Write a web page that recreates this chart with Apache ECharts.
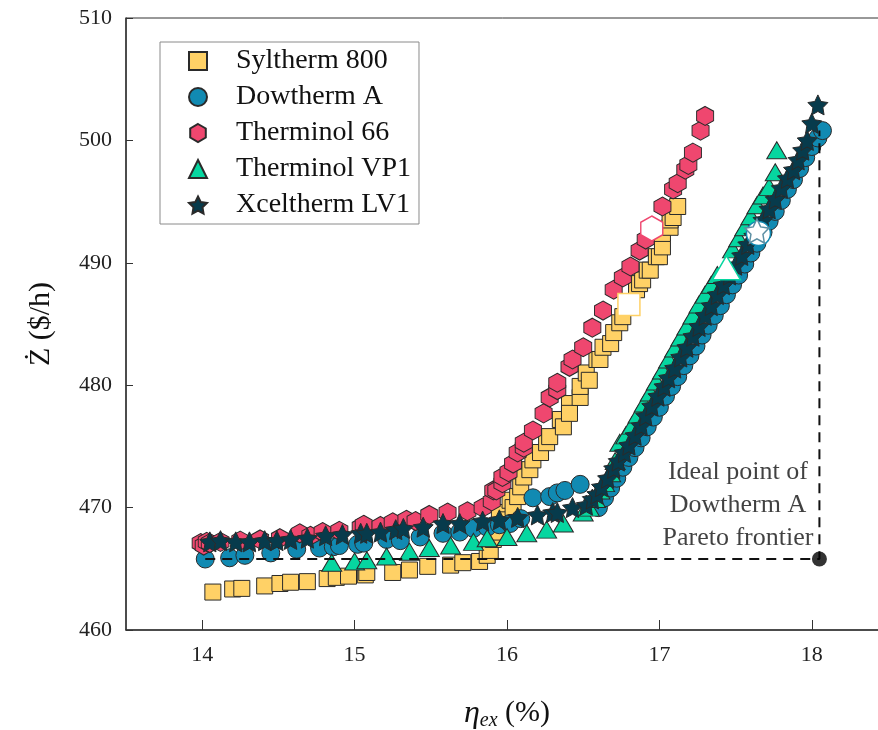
<!DOCTYPE html>
<html>
<head>
<meta charset="utf-8">
<script src="https://cdn.jsdelivr.net/npm/echarts@6/dist/echarts.min.js"></script>
<style>
  html, body { margin: 0; padding: 0; background: #fff; }
  #chart { width: 878px; height: 730px; }
</style>
</head>
<body>
<div id="chart"></div>
<script>
// Exergy efficiency (%) vs. total cost rate (Ż, $/h) for five heat-transfer oils
const xTicks = [14, 15, 16, 17, 18];
const yTicks = [460, 470, 480, 490, 500, 510];

const syltherm800 = [[14.07,463.1],[14.20,463.35],[14.26,463.4],[14.41,463.6],[14.51,463.8],[14.58,463.9],[14.69,463.95],[14.82,464.2],[14.88,464.3],[14.96,464.4],[15.07,464.5],[15.08,464.7],[15.25,464.7],[15.36,464.9],[15.48,465.2],[15.63,465.3],[15.71,465.5],[15.82,465.6],[15.87,466.1],[15.89,466.5],[15.91,467.4],[15.93,468.0],[15.95,469.6],[16.00,469.0],[16.02,470.6],[16.04,470.0],[16.07,470.9],[16.09,471.7],[16.11,472.5],[16.15,473.1],[16.17,473.9],[16.22,474.5],[16.26,475.3],[16.28,475.8],[16.35,477.2],[16.37,476.6],[16.41,478.5],[16.41,477.7],[16.48,479.0],[16.48,479.9],[16.52,481.0],[16.54,480.4],[16.59,482.1],[16.61,482.1],[16.63,483.1],[16.68,483.4],[16.70,484.3],[16.74,485.1],[16.76,485.6],[16.85,487.8],[16.87,488.3],[16.89,488.6],[16.92,489.4],[16.94,489.4],[16.98,490.5],[17.00,490.5],[17.02,491.3],[17.02,492.4],[17.07,492.9],[17.07,493.5],[17.09,493.7],[17.12,494.6]];
const sylthermBest = [[16.80,486.6]];

const dowthermA = [[14.02,465.8],[14.18,465.9],[14.28,466.1],[14.45,466.3],[14.62,466.6],[14.77,466.7],[14.86,466.8],[14.90,466.9],[15.02,467.0],[15.06,467.1],[15.21,467.4],[15.30,467.3],[15.43,467.6],[15.58,467.9],[15.69,468.0],[15.78,468.3],[15.87,468.4],[15.95,468.6],[16.02,468.7],[16.09,469.1],[16.17,470.8],[16.28,470.9],[16.33,471.2],[16.38,471.4],[16.48,471.9],[16.60,470.0],[16.64,470.8],[16.68,471.6],[16.72,472.4],[16.76,473.3],[16.80,474.1],[16.84,474.9],[16.88,475.7],[16.92,476.6],[16.96,477.4],[17.00,478.2],[17.04,479.1],[17.08,479.9],[17.12,480.7],[17.16,481.6],[17.20,482.4],[17.24,483.2],[17.28,484.1],[17.32,484.9],[17.36,485.7],[17.40,486.5],[17.44,487.4],[17.48,488.2],[17.52,489.0],[17.56,489.9],[17.60,490.8],[17.64,491.6],[17.68,492.5],[17.72,493.4],[17.76,494.2],[17.80,495.1],[17.84,496.0],[17.88,496.8],[17.92,497.7],[17.96,498.6],[18.00,499.5],[18.04,500.2],[18.07,500.8]];
const dowthermBest = [[17.65,492.4]];

const therminol66 = [[13.99,467.1],[14.01,466.9],[14.03,467.2],[14.05,467.1],[14.12,467.2],[14.25,467.3],[14.38,467.4],[14.51,467.5],[14.64,467.9],[14.71,467.7],[14.79,468.0],[14.90,468.1],[15.04,468.4],[15.06,468.6],[15.17,468.5],[15.25,468.8],[15.34,469.0],[15.40,468.9],[15.49,469.4],[15.61,469.6],[15.74,469.7],[15.84,470.0],[15.90,470.5],[15.91,471.4],[15.93,471.4],[15.97,472.0],[15.97,472.5],[16.01,472.9],[16.04,473.6],[16.07,474.5],[16.11,474.9],[16.11,475.3],[16.17,476.3],[16.24,477.7],[16.28,479.0],[16.33,479.6],[16.33,480.2],[16.41,481.5],[16.43,482.1],[16.50,483.1],[16.56,484.7],[16.63,486.1],[16.70,487.8],[16.76,488.8],[16.81,489.7],[16.87,491.0],[16.91,491.9],[17.02,494.6],[17.09,496.0],[17.12,496.5],[17.17,497.6],[17.19,498.0],[17.22,499.0],[17.27,500.8],[17.30,502.0]];
const therminol66Best = [[16.95,492.8]];

const therminolVP1 = [[14.85,465.5],[15.00,465.6],[15.08,465.7],[15.21,466.0],[15.36,466.4],[15.49,466.7],[15.63,466.9],[15.78,467.2],[15.87,467.5],[16.00,467.6],[16.13,467.9],[16.26,468.2],[16.37,468.7],[16.50,469.6],[16.54,470.0],[16.58,470.7],[16.61,471.4],[16.64,472.0],[16.68,472.8],[16.71,473.8],[16.74,475.3],[16.78,475.9],[16.82,476.7],[16.86,477.6],[16.90,478.5],[16.94,479.4],[16.98,480.3],[17.02,481.2],[17.06,482.1],[17.10,483.0],[17.14,483.9],[17.18,484.8],[17.22,485.7],[17.26,486.6],[17.30,487.4],[17.34,488.2],[17.38,489.0],[17.48,491.1],[17.52,492.0],[17.56,492.9],[17.60,493.8],[17.64,494.7],[17.68,495.5],[17.72,496.2],[17.76,497.4],[17.77,499.2]];
const therminolVP1Best = [[17.44,489.6]];

const xceltermLV1 = [[14.05,467.2],[14.12,467.3],[14.22,467.2],[14.31,467.2],[14.41,467.3],[14.49,467.3],[14.58,467.4],[14.69,467.5],[14.81,467.7],[14.92,467.8],[15.04,467.9],[15.08,467.9],[15.17,468.0],[15.27,468.2],[15.32,468.3],[15.45,468.4],[15.58,468.7],[15.69,468.7],[15.84,468.9],[15.95,469.0],[16.07,469.2],[16.20,469.4],[16.30,469.6],[16.33,469.6],[16.43,470.0],[16.52,470.2],[16.56,470.7],[16.59,471.1],[16.62,471.7],[16.66,472.4],[16.70,473.2],[16.73,473.8],[16.77,474.5],[16.80,475.1],[16.84,475.9],[16.88,476.7],[16.91,477.5],[16.95,478.3],[16.99,479.1],[17.03,479.9],[17.06,480.6],[17.10,481.4],[17.14,482.3],[17.18,483.1],[17.22,484.0],[17.26,484.8],[17.30,485.7],[17.34,486.5],[17.38,487.4],[17.42,488.2],[17.46,489.0],[17.50,489.8],[17.54,490.6],[17.58,491.5],[17.62,492.2],[17.68,493.5],[17.72,494.4],[17.76,495.2],[17.80,496.1],[17.84,496.9],[17.88,497.6],[17.91,498.4],[17.94,499.2],[17.97,500.0],[18.00,501.4],[18.04,502.9]];
const xceltermBest = [[17.64,492.6]];

// Ideal point of the Dowtherm A front: best efficiency, lowest cost
const idealPoint = [18.05, 465.8];
const idealFrom = [14.02, 465.8];
const idealTo = [18.05, 500.8];

const names = ['Syltherm 800', 'Dowtherm A', 'Therminol 66', 'Therminol VP1', 'Xceltherm LV1'];
const colors = ['#FFD166', '#118AB2', '#EF476F', '#06D6A0', '#073B4C'];

const HEX = 'path://M0,-10 L8.66,-5 L8.66,5 L0,10 L-8.66,5 L-8.66,-5 Z';
const STAR = 'path://M0,-10 L2.94,-4.05 L9.51,-3.09 L4.76,1.55 L5.88,8.09 L0,5 L-5.88,8.09 L-4.76,1.55 L-9.51,-3.09 L-2.94,-4.05 Z';
const symbols = ['rect', 'circle', HEX, 'triangle', STAR];
const sizes = [16, 18, [17, 19], [20, 17], 20];
const bigSizes = [22, 24, [22, 25], [28, 24], 24];
const mainData = [syltherm800, dowthermA, therminol66, therminolVP1, xceltermLV1];
const bestData = [sylthermBest, dowthermBest, therminol66Best, therminolVP1Best, xceltermBest];

const FONT = 'Liberation Serif';

const series = [];
names.forEach((n, i) => {
  series.push({
    name: n, type: 'scatter', data: mainData[i],
    symbol: symbols[i], symbolSize: sizes[i],
    itemStyle: { color: colors[i], borderColor: '#2a2a2a', borderWidth: 1, opacity: 1 },
    emphasis: { disabled: true }, z: 2
  });
});
names.forEach((n, i) => {
  series.push({
    name: n, type: 'scatter', data: bestData[i],
    symbol: symbols[i], symbolSize: bigSizes[i],
    itemStyle: { color: '#ffffff', borderColor: i === 4 ? '#5d8fa3' : colors[i], borderWidth: 1.5, opacity: 1 },
    emphasis: { disabled: true }, z: 4
  });
});
// dashed guides to the ideal point
series.push({
  name: 'guide', type: 'line', data: [idealFrom, idealPoint, idealTo],
  symbol: 'none', silent: true,
  lineStyle: { color: '#111', width: 2, type: [10, 7] }, z: 5
});
series.push({
  name: 'ideal', type: 'scatter', data: [idealPoint],
  symbol: 'circle', symbolSize: 15,
  itemStyle: { color: '#000' }, z: 6, silent: true,
  label: {
    show: true, formatter: 'Ideal point of\nDowtherm A\nPareto frontier',
    position: [-74, 3], align: 'center', verticalAlign: 'bottom',
    fontFamily: FONT, fontSize: 26, lineHeight: 33, color: '#111'
  }
});

const chart = echarts.init(document.getElementById('chart'), null, { renderer: 'canvas' });
chart.setOption({
  animation: false,
  backgroundColor: '#fff',
  grid: {
    left: 126, top: 18, bottom: 100, right: -10,
    outerBoundsMode: 'none', containLabel: false,
    show: true, borderColor: '#333', borderWidth: 1, backgroundColor: 'transparent'
  },
  legend: {
    data: names, orient: 'vertical', left: 160, top: 42,
    itemWidth: 18, itemHeight: 18, itemGap: 8,
    padding: [5, 8, 5, 28],
    borderColor: '#8a8a8a', borderWidth: 1, backgroundColor: '#fff',
    textStyle: { fontFamily: FONT, fontSize: 28, lineHeight: 28, color: '#111', padding: [0, 0, 0, 24] },
    selectedMode: false
  },
  xAxis: {
    type: 'value', min: 13.5, max: 18.5,
    name: '{i|η}{s|ex}{n| (%)}', nameLocation: 'middle', nameGap: 66,
    nameTextStyle: {
      fontFamily: FONT, color: '#111',
      rich: {
        i: { fontFamily: FONT, fontStyle: 'italic', fontSize: 32, color: '#111' },
        s: { fontFamily: FONT, fontStyle: 'italic', fontSize: 20, color: '#111', padding: [15, 0, 0, 0] },
        n: { fontFamily: FONT, fontSize: 30, color: '#111' }
      }
    },
    axisLine: { show: true, lineStyle: { color: '#333', width: 1.5 } },
    axisTick: { show: true, inside: true, length: 10, customValues: xTicks, lineStyle: { color: '#333' } },
    axisLabel: { customValues: xTicks, fontFamily: FONT, fontSize: 22, color: '#222', margin: 14 },
    splitLine: { show: false }
  },
  yAxis: {
    type: 'value', min: 460, max: 510, interval: 10,
    name: 'Ż ($/h)', nameLocation: 'middle', nameGap: 70, nameRotate: 90,
    nameTextStyle: { fontFamily: FONT, fontSize: 30, color: '#111' },
    axisLine: { show: true, lineStyle: { color: '#333', width: 1.5 } },
    axisTick: { show: true, inside: true, length: 7, lineStyle: { color: '#333' } },
    axisLabel: { fontFamily: FONT, fontSize: 22, color: '#222', margin: 14, formatter: v => yTicks.includes(v) ? String(v) : '' },
    splitLine: { show: false }
  },
  series: series
});
</script>
</body>
</html>
